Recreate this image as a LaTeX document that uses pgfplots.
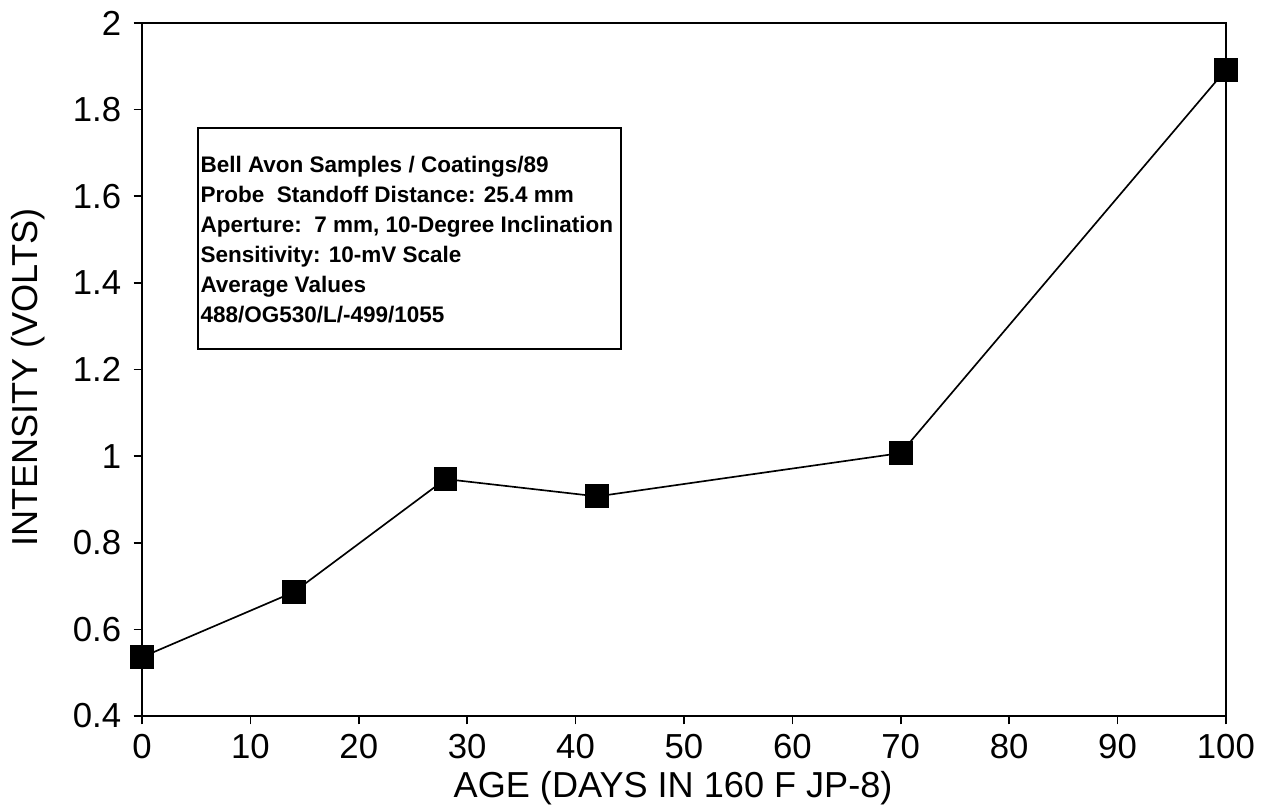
\documentclass[border=0pt]{standalone}
\usepackage{fontspec}
\setmainfont{Liberation Sans}
\usepackage{pgfplots}
\pgfplotsset{compat=1.18}

\begin{document}
\begin{tikzpicture}
\begin{axis}[
  scale only axis,
  width=390.2pt, height=249.5pt,
  xmin=0, xmax=100,
  ymin=0.4, ymax=2,
  xtick={0,10,...,100},
  ytick={0.4,0.6,...,2.01},
  tick align=outside,
  major tick length=3pt,
  xtick pos=bottom, ytick pos=left,
  axis line style={line width=0.75pt},
  tick style={line width=0.6pt, black},
  /pgf/number format/assume math mode=true,
  ticklabel style={font=\fontsize{12.5}{14}\selectfont},
  xticklabel style={yshift=0pt},
  yticklabel style={xshift=-1pt},
  xlabel={AGE (DAYS IN 160 F JP-8)},
  ylabel={INTENSITY (VOLTS)},
  label style={font=\fontsize{13}{15}\selectfont},
  xlabel style={at={(axis description cs:0.49,-0.1039)}, anchor=center},
  ylabel style={at={(axis description cs:-0.1047,0.488)}, anchor=center},
  clip=false,
]
% average intensity vs age
\addplot[black, line width=0.6pt, mark=square*, mark size=4pt,
  mark options={solid, fill=black}] coordinates {
  (0,0.536) (14,0.686) (28,0.947) (42,0.907) (70,1.007) (100,1.892)
};
\draw[line width=0.6pt] (axis cs:5.17,1.248) rectangle (axis cs:44.2,1.758);
\node[anchor=north west, inner sep=0pt, align=left,
  font=\fontsize{8.1}{10.8}\selectfont\bfseries]
  at (axis cs:5.35,1.694) {Bell Avon Samples / Coatings/89\\
Probe\ \ Standoff Distance: 25.4 mm\\
Aperture:\ \ 7 mm, 10-Degree Inclination\\
Sensitivity: 10-mV Scale\\
Average Values\\
488/OG530/L/-499/1055};
\end{axis}
\pgfresetboundingbox
\path (-51.12pt,-34.2pt) rectangle (403.56pt,257.76pt);
\end{tikzpicture}
\end{document}
